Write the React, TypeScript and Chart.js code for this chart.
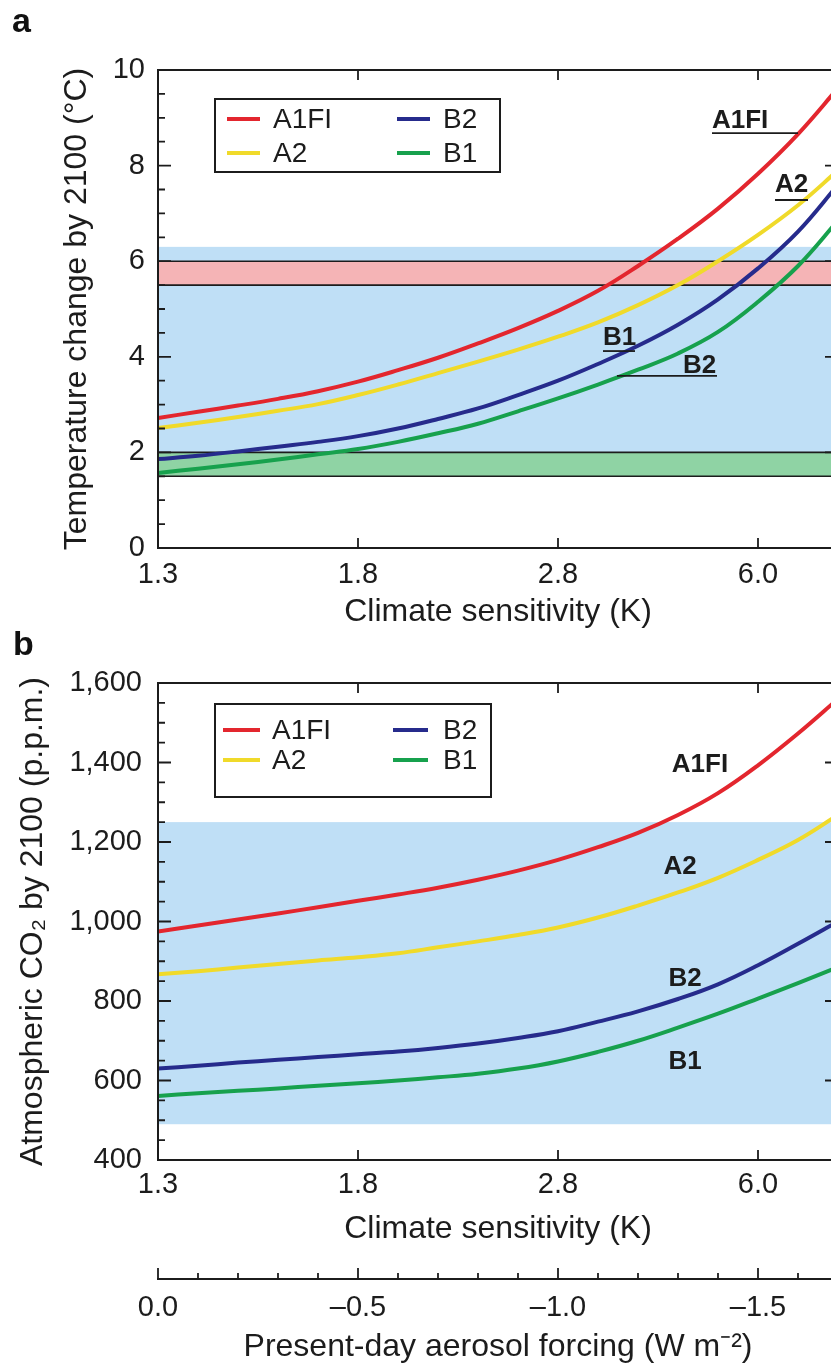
import React, { useEffect, useRef } from 'react';
import { Chart, registerables } from 'chart.js';

Chart.register(...registerables);

const FONT = "'Liberation Sans', Arial, Helvetica, sans-serif";
const INK = '#1c1c1c';
Chart.defaults.font.family = FONT;
Chart.defaults.color = INK;

const forcing = [0, -0.1, -0.2, -0.3, -0.4, -0.5, -0.6, -0.7, -0.8, -0.9, -1.0, -1.1, -1.2, -1.3, -1.4, -1.5, -1.6, -1.7];
const sensitivityTickForcing = [0, -0.5, -1.0, -1.5];
const sensitivityTickLabels = ['1.3', '1.8', '2.8', '6.0'];
const aerosolMajorTicks = [0, -0.5, -1.0, -1.5];
const aerosolTickLabels = ['0.0', '\u20130.5', '\u20131.0', '\u20131.5'];

const scenarios = ['A1FI', 'A2', 'B2', 'B1'];
const scenarioColors = ['#e3262e', '#f0da2a', '#262b8c', '#17a14d'];

// panel a: temperature change by 2100 (°C)
const tempA1FI = [2.72, 2.85, 2.98, 3.12, 3.28, 3.48, 3.72, 3.98, 4.28, 4.6, 4.96, 5.38, 5.9, 6.47, 7.1, 7.83, 8.66, 9.62];
const tempA2 = [2.51, 2.62, 2.74, 2.87, 3.01, 3.2, 3.42, 3.66, 3.9, 4.15, 4.42, 4.72, 5.08, 5.5, 6.0, 6.55, 7.17, 7.9];
const tempB2 = [1.86, 1.93, 2.02, 2.12, 2.22, 2.34, 2.5, 2.7, 2.92, 3.2, 3.5, 3.85, 4.23, 4.67, 5.2, 5.85, 6.62, 7.6];
const tempB1 = [1.57, 1.66, 1.75, 1.85, 1.96, 2.07, 2.22, 2.4, 2.6, 2.86, 3.13, 3.42, 3.73, 4.07, 4.52, 5.15, 5.9, 6.85];

// panel b: atmospheric CO2 by 2100 (p.p.m.)
const co2A1FI = [975, 990, 1005, 1020, 1036, 1052, 1068, 1085, 1105, 1128, 1155, 1187, 1223, 1268, 1323, 1393, 1473, 1560];
const co2A2 = [867, 875, 884, 893, 902, 910, 920, 935, 950, 966, 985, 1010, 1040, 1073, 1110, 1155, 1205, 1268];
const co2B2 = [630, 637, 645, 652, 659, 666, 673, 682, 693, 707, 724, 748, 774, 805, 842, 890, 944, 1000];
const co2B1 = [561, 568, 574, 580, 587, 593, 600, 608, 617, 630, 648, 672, 700, 733, 768, 806, 845, 885];

// shaded ranges
const tempBlueRange = [1.5, 6.3];
const tempUpperRange = [5.5, 6.0];
const tempLowerRange = [1.5, 2.0];
const co2BlueRange = [490, 1250];

const decorPlugin = {
  id: 'decor',
  beforeDatasetsDraw(chart: any, _a: any, o: any) {
    const { ctx, chartArea: ca } = chart;
    const y = chart.scales.y;
    ctx.save();
    const bands = o.bands || [];
    bands.forEach((b: any) => {
      const top = y.getPixelForValue(b.range[1]);
      const bot = y.getPixelForValue(b.range[0]);
      ctx.fillStyle = b.color;
      ctx.fillRect(ca.left, top, ca.right - ca.left, bot - top);
    });
    ctx.strokeStyle = INK;
    ctx.lineWidth = 1.6;
    bands.forEach((b: any) => {
      if (!b.edges) return;
      const top = y.getPixelForValue(b.range[1]);
      const bot = y.getPixelForValue(b.range[0]);
      ctx.beginPath();
      ctx.moveTo(ca.left, top);
      ctx.lineTo(ca.right, top);
      ctx.moveTo(ca.left, bot);
      ctx.lineTo(ca.right, bot);
      ctx.stroke();
    });
    ctx.restore();
  },
  afterDatasetsDraw(chart: any, _a: any, o: any) {
    const { ctx, chartArea: ca, scales } = chart;
    const x = scales.x;
    const y = scales.y;
    ctx.save();
    // frame
    ctx.strokeStyle = INK;
    ctx.lineWidth = 2;
    ctx.strokeRect(ca.left, ca.top, ca.right - ca.left, ca.bottom - ca.top);
    // inward ticks
    ctx.lineWidth = 1.8;
    ctx.beginPath();
    y.ticks.forEach((t: any) => {
      const py = y.getPixelForValue(t.value);
      const len = t.label ? 13 : 7;
      ctx.moveTo(ca.left, py);
      ctx.lineTo(ca.left + len, py);
      ctx.moveTo(ca.right, py);
      ctx.lineTo(ca.right - len, py);
    });
    x.ticks.forEach((t: any) => {
      const px = x.getPixelForValue(t.value);
      ctx.moveTo(px, ca.bottom);
      ctx.lineTo(px, ca.bottom - 10);
      ctx.moveTo(px, ca.top);
      ctx.lineTo(px, ca.top + 10);
    });
    ctx.stroke();
    const x2 = scales.x2;
    if (x2) {
      ctx.lineWidth = 2;
      ctx.beginPath();
      ctx.moveTo(ca.left - 1, x2.top);
      ctx.lineTo(ca.right, x2.top);
      ctx.stroke();
      ctx.lineWidth = 1.8;
      ctx.beginPath();
      x2.ticks.forEach((t: any) => {
        const px = x2.getPixelForValue(t.value);
        const len = t.label ? 11 : 6;
        ctx.moveTo(px, x2.top);
        ctx.lineTo(px, x2.top - len);
      });
      ctx.stroke();
    }
    // in-plot scenario labels
    ctx.fillStyle = INK;
    ctx.strokeStyle = INK;
    ctx.font = `bold 26px ${FONT}`;
    (o.labels || []).forEach((l: any) => {
      const px = x.getPixelForValue(l.at[0]);
      const py = y.getPixelForValue(l.at[1]);
      ctx.textAlign = l.align;
      ctx.textBaseline = l.baseline;
      ctx.fillText(l.text, px, py);
      if (l.leader) {
        const ly = y.getPixelForValue(l.leader[2]);
        ctx.lineWidth = 1.8;
        ctx.beginPath();
        ctx.moveTo(x.getPixelForValue(l.leader[0]), ly);
        ctx.lineTo(x.getPixelForValue(l.leader[1]), ly);
        ctx.stroke();
      }
    });
    // legend
    const L = o.legend;
    if (L) {
      const bx = ca.left + L.box[0];
      const by = ca.top + L.box[1];
      ctx.fillStyle = '#ffffff';
      ctx.fillRect(bx, by, L.box[2], L.box[3]);
      ctx.strokeStyle = INK;
      ctx.lineWidth = 2;
      ctx.strokeRect(bx, by, L.box[2], L.box[3]);
      ctx.font = `28px ${FONT}`;
      ctx.textAlign = 'left';
      ctx.textBaseline = 'middle';
      chart.data.datasets.forEach((ds: any, i: number) => {
        const col = Math.floor(i / 2);
        const row = i % 2;
        const yy = ca.top + L.rows[row];
        const c = L.cols[col];
        ctx.strokeStyle = ds.borderColor;
        ctx.lineWidth = 4;
        ctx.beginPath();
        ctx.moveTo(ca.left + c[0], yy);
        ctx.lineTo(ca.left + c[1], yy);
        ctx.stroke();
        ctx.fillStyle = INK;
        ctx.fillText(ds.label, ca.left + c[2], yy + 1);
      });
    }
    // panel letter
    if (o.letter) {
      ctx.fillStyle = '#111';
      ctx.font = `bold 34px ${FONT}`;
      ctx.textAlign = 'left';
      ctx.textBaseline = 'alphabetic';
      ctx.fillText(o.letter.text, o.letter.x, o.letter.y);
    }
    ctx.restore();
  },
};

function makeDatasets(series: number[][]) {
  return series.map((vals, i) => ({
    label: scenarios[i],
    data: forcing.map((f, j) => ({ x: f, y: vals[j] })),
    borderColor: scenarioColors[i],
    backgroundColor: scenarioColors[i],
    borderWidth: 4,
    pointRadius: 0,
    tension: 0.4,
    fill: false,
  }));
}

const tickFont = { family: FONT, size: 29 };
const titleFont = { family: FONT, size: 32, lineHeight: 1 };

function sensitivityAxis(height: number, tickPad: number, titlePadBottom: number) {
  return {
    type: 'linear',
    position: 'bottom',
    weight: 0,
    min: -1.7,
    max: 0,
    reverse: true,
    afterBuildTicks: (s: any) => {
      s.ticks = sensitivityTickForcing.map((v) => ({ value: v }));
    },
    ticks: {
      autoSkip: false,
      maxRotation: 0,
      padding: tickPad,
      font: tickFont,
      color: INK,
      callback: (v: number) => {
        const i = sensitivityTickForcing.indexOf(v);
        return i >= 0 ? sensitivityTickLabels[i] : '';
      },
    },
    grid: { display: false, drawTicks: false },
    border: { display: false },
    title: {
      display: true,
      text: 'Climate sensitivity (K)',
      font: titleFont,
      color: INK,
      padding: { top: 0, bottom: titlePadBottom },
    },
    afterFit: (s: any) => {
      s.height = height;
    },
  };
}

function buildA() {
  return {
    type: 'line',
    data: { datasets: makeDatasets([tempA1FI, tempA2, tempB2, tempB1]) },
    plugins: [decorPlugin],
    options: {
      responsive: false,
      maintainAspectRatio: false,
      animation: false,
      devicePixelRatio: 1,
      layout: { padding: { left: 0, top: 70, right: 22, bottom: 0 } },
      scales: {
        x: sensitivityAxis(80, 10, 0),
        y: {
          type: 'linear',
          min: 0,
          max: 10,
          ticks: {
            stepSize: 0.5,
            autoSkip: false,
            padding: 13,
            font: tickFont,
            color: INK,
            callback: (v: number) => (Math.abs(v % 2) < 1e-9 ? String(v) : ''),
          },
          grid: { display: false, drawTicks: false },
          border: { display: false },
          title: {
            display: true,
            text: 'Temperature change by 2100 (°C)',
            font: titleFont,
            color: INK,
            padding: { top: 61, bottom: 0 },
          },
          afterFit: (s: any) => {
            s.width = 158;
          },
        },
      },
      plugins: {
        legend: { display: false },
        tooltip: { enabled: false },
        decor: {
          bands: [
            { range: tempBlueRange, color: '#bfdff6' },
            { range: tempUpperRange, color: '#f5b4b6', edges: true },
            { range: tempLowerRange, color: '#8fd3a4', edges: true },
          ],
          labels: [
            { text: 'A1FI', at: [-1.385, 8.79], align: 'left', baseline: 'alphabetic', leader: [-1.385, -1.6, 8.68] },
            { text: 'A2', at: [-1.5425, 7.45], align: 'left', baseline: 'alphabetic', leader: [-1.5425, -1.625, 7.28] },
            { text: 'B1', at: [-1.1125, 4.25], align: 'left', baseline: 'alphabetic', leader: [-1.1125, -1.1925, 4.12] },
            { text: 'B2', at: [-1.3125, 3.66], align: 'left', baseline: 'alphabetic', leader: [-1.1475, -1.3975, 3.6] },
          ],
          legend: { box: [57, 29, 285, 73], rows: [49, 83], cols: [[69, 102, 115], [239, 272, 285]] },
          letter: { text: 'a', x: 12, y: 32 },
        },
      },
    },
  };
}

function buildB() {
  return {
    type: 'line',
    data: { datasets: makeDatasets([co2A1FI, co2A2, co2B2, co2B1]) },
    plugins: [decorPlugin],
    options: {
      responsive: false,
      maintainAspectRatio: false,
      animation: false,
      devicePixelRatio: 1,
      layout: { padding: { left: 0, top: 55, right: 22, bottom: 0 } },
      scales: {
        x: sensitivityAxis(119, 8, 34),
        x2: {
          type: 'linear',
          position: 'bottom',
          weight: 1,
          min: -1.7,
          max: 0,
          reverse: true,
          afterBuildTicks: (s: any) => {
            s.ticks = forcing.map((v) => ({ value: v }));
          },
          ticks: {
            autoSkip: false,
            maxRotation: 0,
            padding: 12,
            font: tickFont,
            color: INK,
            callback: (v: number) => {
              const i = aerosolMajorTicks.indexOf(v);
              return i >= 0 ? aerosolTickLabels[i] : '';
            },
          },
          grid: { display: false, drawTicks: false },
          border: { display: false },
          title: {
            display: true,
            text: 'Present-day aerosol forcing (W m\u207B\u00B2)',
            font: titleFont,
            color: INK,
            padding: { top: 0, bottom: 4 },
          },
          afterFit: (s: any) => {
            s.height = 88;
          },
        },
        y: {
          type: 'linear',
          min: 400,
          max: 1600,
          ticks: {
            stepSize: 50,
            autoSkip: false,
            padding: 16,
            font: tickFont,
            color: INK,
            callback: (v: number) => (Math.abs(v % 200) < 1e-9 ? v.toLocaleString('en-US') : ''),
          },
          grid: { display: false, drawTicks: false },
          border: { display: false },
          title: {
            display: true,
            text: 'Atmospheric CO\u2082 by 2100 (p.p.m.)',
            font: titleFont,
            color: INK,
            padding: { top: 17, bottom: 0 },
          },
          afterFit: (s: any) => {
            s.width = 158;
          },
        },
      },
      plugins: {
        legend: { display: false },
        tooltip: { enabled: false },
        decor: {
          bands: [{ range: co2BlueRange, color: '#bfdff6' }],
          labels: [
            { text: 'A1FI', at: [-1.355, 1394], align: 'center', baseline: 'middle' },
            { text: 'A2', at: [-1.305, 1138], align: 'center', baseline: 'middle' },
            { text: 'B2', at: [-1.3175, 855], align: 'center', baseline: 'middle' },
            { text: 'B1', at: [-1.3175, 646], align: 'center', baseline: 'middle' },
          ],
          legend: { box: [57, 21, 276, 93], rows: [47, 77], cols: [[65, 102, 114], [235, 270, 285]] },
          letter: { text: 'b', x: 13, y: 27 },
        },
      },
    },
  };
}

function Panel({ build, width, height }: { build: () => any; width: number; height: number }) {
  const ref = useRef<HTMLCanvasElement>(null);
  useEffect(() => {
    const chart = new Chart(ref.current as HTMLCanvasElement, build());
    return () => chart.destroy();
  }, []);
  return <canvas ref={ref} width={width} height={height} style={{ display: 'block', width, height }} />;
}

export default function App() {
  return (
    <div
      style={{
        position: 'absolute',
        left: 0,
        top: 0,
        width: 831,
        height: 1367,
        overflow: 'hidden',
        background: '#ffffff',
      }}
    >
      <Panel build={buildA} width={860} height={628} />
      <Panel build={buildB} width={860} height={739} />
    </div>
  );
}
